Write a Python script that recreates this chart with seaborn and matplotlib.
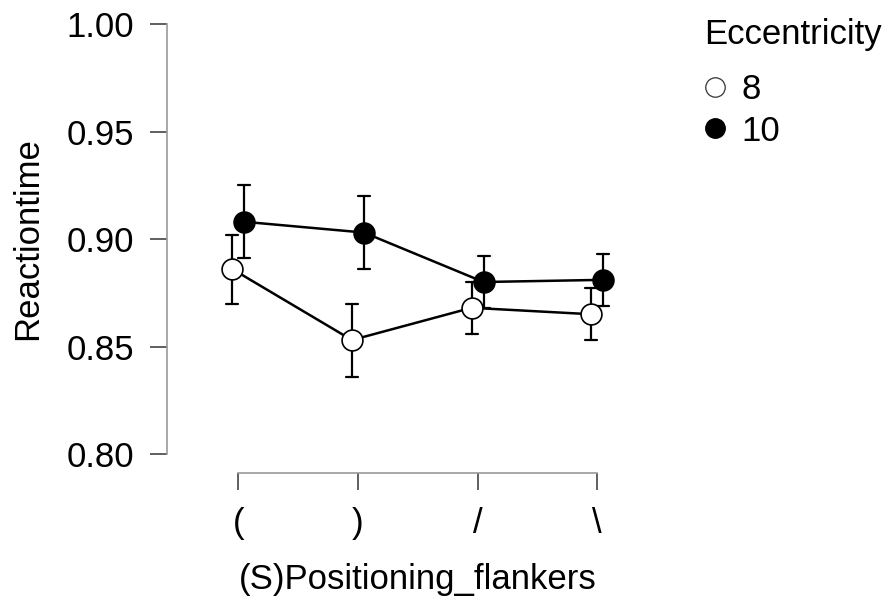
import numpy as np
import pandas as pd
import matplotlib
matplotlib.use("Agg")
import matplotlib.pyplot as plt
from matplotlib.lines import Line2D
import seaborn as sns

# ---- data ----
categories = ["(", ")", "/", "\\"]
ecc_levels = ["8", "10"]
rt_8 = [0.886, 0.853, 0.868, 0.865]
se_8 = [0.016, 0.017, 0.012, 0.012]
rt_10 = [0.908, 0.903, 0.880, 0.881]
se_10 = [0.017, 0.017, 0.012, 0.012]
y_ticks = [0.80, 0.85, 0.90, 0.95, 1.00]

# long table: lower / upper bound per cell (mean of the two = point, range = error bar)
rows = []
for lvl, means, ses in [("8", rt_8, se_8), ("10", rt_10, se_10)]:
    for c, m, s in zip(categories, means, ses):
        rows.append({"pos": c, "ecc": lvl, "rt": m - s})
        rows.append({"pos": c, "ecc": lvl, "rt": m + s})
df = pd.DataFrame(rows)

sns.set_style("white")
plt.rcParams["font.family"] = ["Liberation Sans", "DejaVu Sans"]
plt.rcParams["text.color"] = "black"
plt.rcParams["axes.labelcolor"] = "black"

FS = 25

fig = plt.figure(figsize=(8.85, 5.99), dpi=100)
ax = fig.add_axes([166.5 / 885, 1 - 454 / 599, (669 - 166.5) / 885, 430 / 599])

sns.pointplot(
    data=df, x="pos", y="rt", hue="ecc", order=categories, hue_order=ecc_levels,
    palette=["black", "black"], estimator="mean", errorbar=("pi", 100),
    dodge=0.1, capsize=0.1, markers="o", linestyles="-",
    markersize=15, linewidth=1.8, err_kws={"linewidth": 1.6},
    ax=ax, legend=False,
)

# style the markers: open (white) for 8, filled for 10
marker_lines = [l for l in ax.lines if l.get_marker() == "o"]
for l, fc in zip(marker_lines, ["white", "black"]):
    l.set_markerfacecolor(fc)
    l.set_markeredgecolor("black")
    l.set_markeredgewidth(1.2)
    l.set_zorder(5 if fc == "white" else 4)

ax.set_xlim(-0.6, 3.6)
ax.set_ylim(0.80, 1.00)
ax.set_yticks(y_ticks)
ax.set_yticklabels([f"{t:.2f}" for t in y_ticks])

for s in ["top", "right"]:
    ax.spines[s].set_visible(False)
ax.spines["left"].set_bounds(0.80, 1.00)
ax.spines["bottom"].set_bounds(0, 3)
ax.spines["bottom"].set_position(("outward", 14))
for s in ["left", "bottom"]:
    ax.spines[s].set_color("#999999")
    ax.spines[s].set_linewidth(1.2)

ax.tick_params(axis="both", which="major", length=12, width=1.2, color="#444444",
               labelsize=FS, labelcolor="black", direction="out",
               left=True, bottom=True)
ax.tick_params(axis="y", pad=11.5)
ax.tick_params(axis="x", pad=12)

ax.set_xlabel("(S)Positioning_flankers", fontsize=FS, labelpad=17, color="black")
ax.set_ylabel("Reactiontime", fontsize=FS, labelpad=16, color="black")

handles = [
    Line2D([], [], marker="o", linestyle="none", markersize=14,
           markerfacecolor="white", markeredgecolor="#333333", markeredgewidth=0.9),
    Line2D([], [], marker="o", linestyle="none", markersize=14,
           markerfacecolor="black", markeredgecolor="black"),
]
leg = fig.legend(handles, ecc_levels, title="Eccentricity", loc="upper left",
                 bbox_to_anchor=(704 / 885, 1 - 18 / 599), frameon=False,
                 fontsize=FS, title_fontsize=FS, handletextpad=0.42,
                 handlelength=0.65, labelspacing=0.24, borderaxespad=0,
                 borderpad=0, labelcolor="black")
leg.get_title().set_color("black")
leg._legend_box.align = "left"
leg._legend_box.sep = 16

fig.savefig("out.png", dpi=100)
